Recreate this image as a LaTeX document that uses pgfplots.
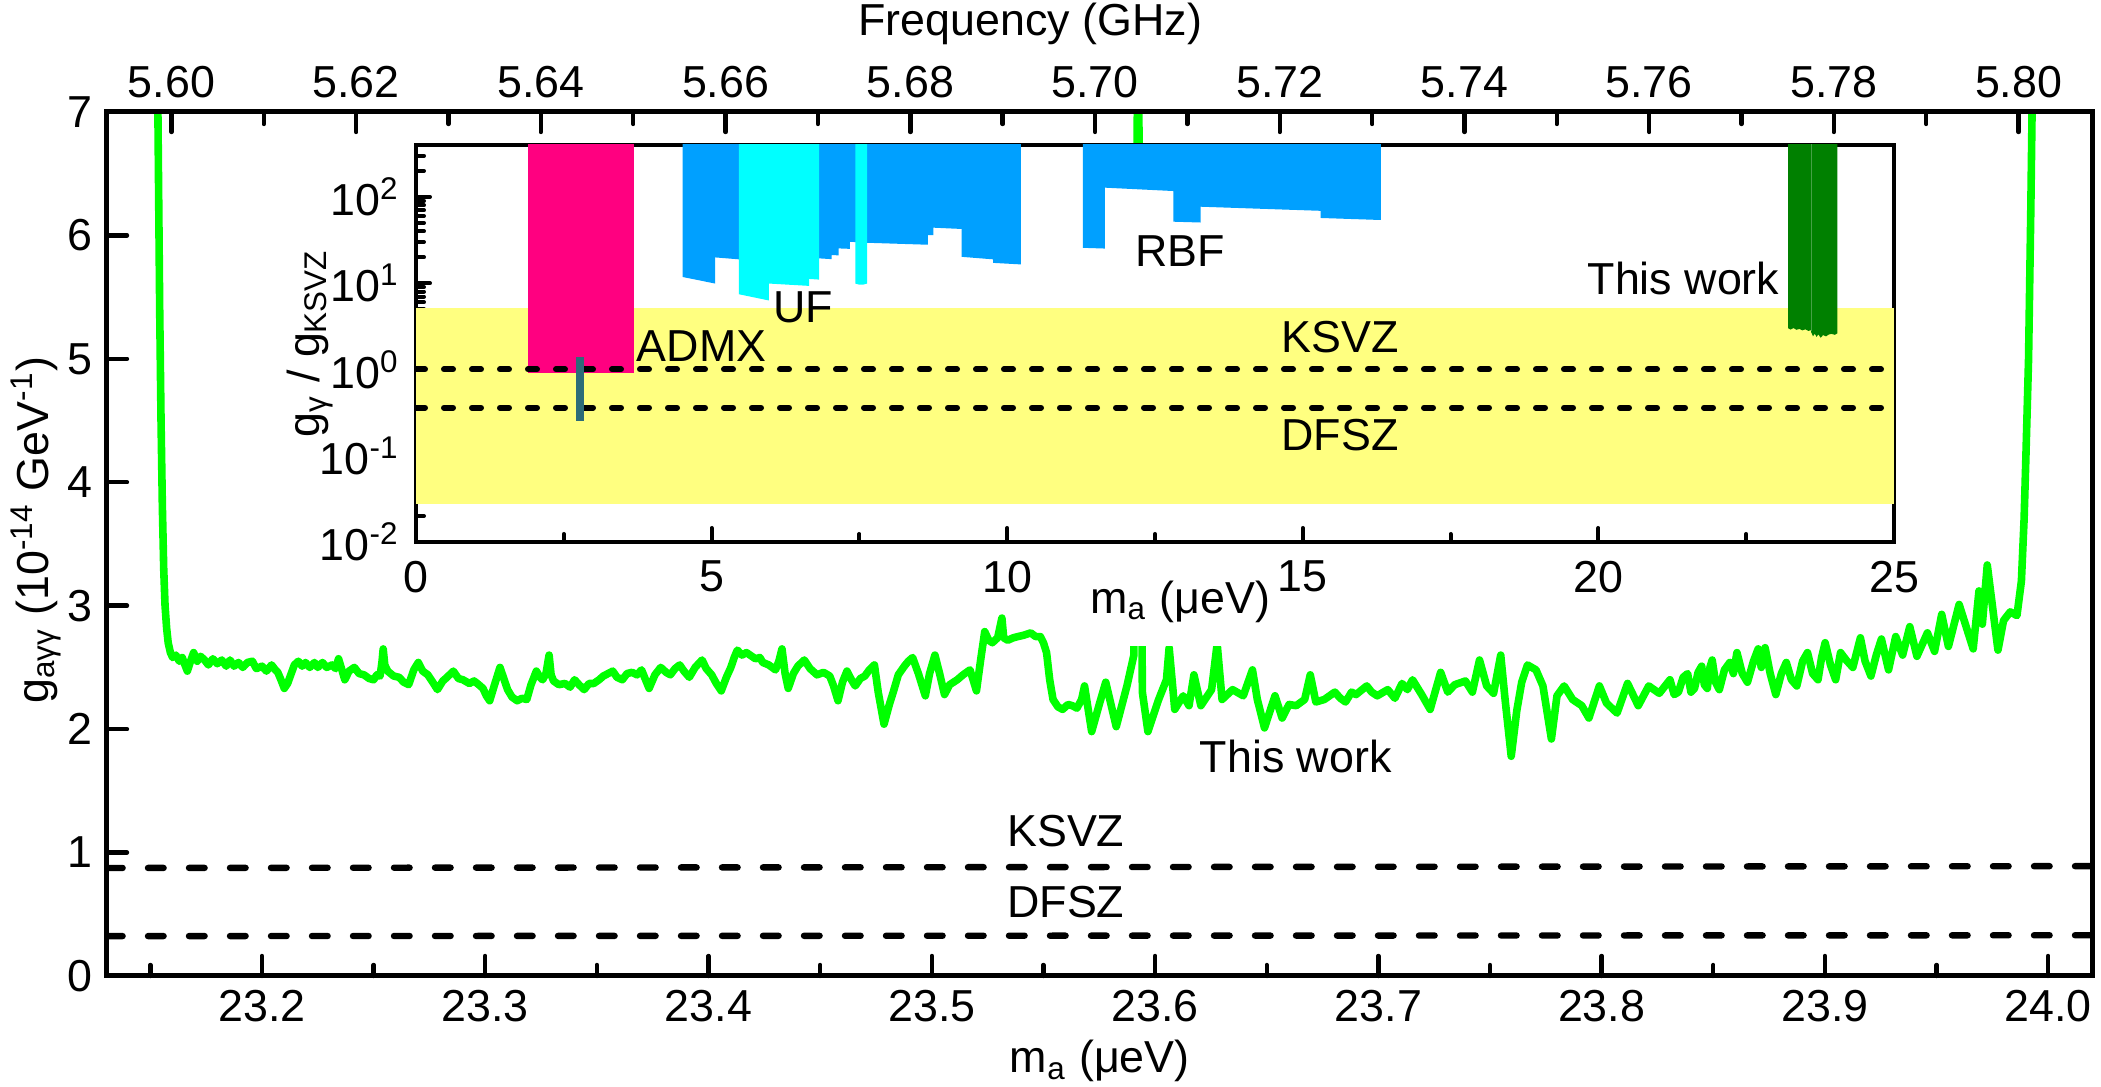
\documentclass[border=0pt]{standalone}
\usepackage{pgfplots}
\pgfplotsset{compat=1.18}
\usepackage{fontspec}
\setmainfont{Liberation Sans}
\newcommand\fs{\fontsize{11.2}{13.4}\selectfont}
\definecolor{mgreen}{RGB}{0,255,0}
\definecolor{ypink}{RGB}{255,0,128}
\definecolor{yteal}{RGB}{45,108,120}
\definecolor{yblue}{RGB}{0,160,255}
\definecolor{ycyan}{RGB}{0,255,255}
\definecolor{ydgreen}{RGB}{0,128,0}
\definecolor{yyellow}{RGB}{255,255,128}
\begin{document}
\begin{tikzpicture}
% ---------------- main axis ----------------
\begin{axis}[
  at={(0,0)}, anchor=south west,
  width=496.4pt, height=216pt, scale only axis,
  xmin=23.1306, xmax=24.0199, ymin=0, ymax=7,
  axis on top,
  axis line style={line width=1.25pt},
  xtick={23.2,23.3,23.4,23.5,23.6,23.7,23.8,23.9,24.0},
  minor xtick={23.15,23.25,23.35,23.45,23.55,23.65,23.75,23.85,23.95},
  ytick={0,1,2,3,4,5,6,7},
  xtick pos=left, ytick pos=left,
  tick align=inside,
  major tick length=5pt, minor tick length=2.75pt,
  tick style={black, line width=1.1pt, line cap=round},
  /pgf/number format/assume math mode=true,
  tick label style={font=\fs},
  xticklabel style={/pgf/number format/.cd, fixed, fixed zerofill, precision=1},
  yticklabel style={/pgf/number format/.cd, fixed, precision=0},
  label style={font=\fs},
  xlabel={m\textsubscript{a} (μeV)},
  ylabel={g\textsubscript{aγγ} (10\textsuperscript{-14} GeV\textsuperscript{-1})},
  xlabel style={at={(axis description cs:0.5,-0.112)}, anchor=base},
  ylabel style={at={(axis description cs:-0.0358,0.516)}, anchor=center},
  clip=true,
]
\addplot[mgreen, line width=1.9pt, line join=round] coordinates {
(23.1530,7.8) (23.1536,6.6) (23.1542,5.4) (23.1548,4.5) (23.1554,3.8) (23.1560,3.3) (23.1566,3.0) (23.1573,2.82) (23.1580,2.70) (23.1590,2.62) (23.1600,2.58)
(23.1614,2.60) (23.1630,2.55) (23.1643,2.58) (23.1655,2.52) (23.1666,2.47) (23.1680,2.55) (23.1694,2.62) (23.1710,2.55) (23.1725,2.59) (23.1743,2.56) (23.1760,2.52) (23.1780,2.57) (23.1800,2.53) (23.1820,2.56) (23.1840,2.51) (23.1857,2.56) (23.1875,2.51) (23.1895,2.54) (23.1914,2.50) (23.1935,2.54) (23.1957,2.55) (23.1975,2.49) (23.2000,2.51) (23.2020,2.47) (23.2043,2.52) (23.2060,2.48) (23.2071,2.46) (23.2085,2.40) (23.2100,2.33) (23.2115,2.37) (23.2129,2.44) (23.2145,2.52) (23.2163,2.55) (23.2180,2.51) (23.2195,2.54) (23.2214,2.50) (23.2235,2.54) (23.2250,2.50) (23.2271,2.54) (23.2290,2.50) (23.2314,2.52) (23.2330,2.49) (23.2343,2.57) (23.2358,2.48) (23.2371,2.40) (23.2390,2.47) (23.2414,2.50) (23.2435,2.45) (23.2457,2.44) (23.2480,2.41) (23.2500,2.40) (23.2515,2.44) (23.2529,2.43) (23.2538,2.55) (23.2543,2.65) (23.2550,2.52) (23.2563,2.47) (23.2590,2.43) (23.2614,2.42) (23.2635,2.38) (23.2657,2.36) (23.2680,2.48) (23.2700,2.54) (23.2720,2.47) (23.2743,2.44) (23.2765,2.38) (23.2786,2.32) (23.2810,2.39) (23.2829,2.42) (23.2857,2.47) (23.2880,2.41) (23.2900,2.40) (23.2929,2.37) (23.2950,2.39) (23.2971,2.36) (23.2990,2.33) (23.3005,2.27) (23.3020,2.23) (23.3040,2.35) (23.3066,2.50) (23.3085,2.40) (23.3100,2.32) (23.3120,2.26) (23.3143,2.23) (23.3165,2.25) (23.3186,2.24) (23.3205,2.36) (23.3229,2.47) (23.3245,2.42) (23.3257,2.40) (23.3272,2.45) (23.3286,2.60) (23.3295,2.44) (23.3306,2.39) (23.3330,2.36) (23.3357,2.37) (23.3380,2.34) (23.3400,2.40) (23.3420,2.36) (23.3443,2.32) (23.3465,2.37) (23.3486,2.37) (23.3510,2.40) (23.3529,2.43) (23.3550,2.45) (23.3571,2.47) (23.3590,2.42) (23.3614,2.40) (23.3635,2.45) (23.3657,2.46) (23.3680,2.44) (23.3700,2.48) (23.3718,2.40) (23.3734,2.33) (23.3760,2.44) (23.3786,2.50) (23.3810,2.46) (23.3829,2.44) (23.3850,2.49) (23.3871,2.52) (23.3890,2.47) (23.3914,2.42) (23.3940,2.50) (23.3971,2.56) (23.3990,2.49) (23.4014,2.44) (23.4035,2.37) (23.4057,2.31) (23.4080,2.42) (23.4100,2.50) (23.4115,2.58) (23.4129,2.64) (23.4150,2.60) (23.4170,2.62) (23.4186,2.60) (23.4210,2.57) (23.4230,2.58) (23.4243,2.54) (23.4270,2.52) (23.4300,2.48) (23.4315,2.55) (23.4329,2.65) (23.4343,2.45) (23.4357,2.33) (23.4380,2.45) (23.4400,2.51) (23.4429,2.56) (23.4455,2.49) (23.4486,2.44) (23.4515,2.46) (23.4543,2.43) (23.4560,2.35) (23.4580,2.23) (23.4600,2.38) (23.4620,2.47) (23.4640,2.40) (23.4657,2.35) (23.4680,2.41) (23.4700,2.43) (23.4720,2.48) (23.4743,2.52) (23.4760,2.30) (23.4786,2.04) (23.4810,2.20) (23.4829,2.31) (23.4850,2.44) (23.4877,2.51) (23.4895,2.55) (23.4914,2.58) (23.4940,2.45) (23.4971,2.27) (23.4990,2.45) (23.5014,2.60) (23.5035,2.45) (23.5057,2.28) (23.5080,2.36) (23.5114,2.40) (23.5140,2.44) (23.5171,2.48) (23.5185,2.40) (23.5200,2.31) (23.5218,2.55) (23.5237,2.79) (23.5255,2.72) (23.5271,2.70) (23.5295,2.74) (23.5314,2.90) (23.5322,2.74) (23.5340,2.72) (23.5365,2.74) (23.5386,2.75) (23.5410,2.76) (23.5443,2.78) (23.5465,2.75) (23.5486,2.75) (23.5500,2.70) (23.5514,2.62) (23.5528,2.40) (23.5543,2.24) (23.5565,2.18) (23.5586,2.16) (23.5610,2.20) (23.5629,2.19) (23.5650,2.17) (23.5671,2.24)
(23.5684,2.35) (23.5716,1.98) (23.5750,2.20) (23.5779,2.38) (23.5826,2.02) (23.5874,2.35) (23.5905,2.60) (23.5924,8.0) (23.5943,2.30) (23.5968,1.98) (23.6016,2.24) (23.6051,2.40) (23.6063,2.66) (23.6088,2.16) (23.6126,2.27) (23.6152,2.19) (23.6174,2.44) (23.6205,2.19) (23.6253,2.32) (23.6278,2.69) (23.6300,2.24) (23.6347,2.32) (23.6395,2.27) (23.6436,2.48) (23.6458,2.24) (23.6490,2.01) (23.6537,2.27) (23.6569,2.09) (23.6600,2.20) (23.6632,2.19) (23.6670,2.24) (23.6695,2.44) (23.6720,2.22) (23.6758,2.24) (23.6805,2.30) (23.6830,2.25) (23.6853,2.22) (23.6880,2.30) (23.6900,2.28) (23.6948,2.35) (23.6970,2.30) (23.6995,2.27) (23.7042,2.32) (23.7074,2.25) (23.7106,2.37) (23.7130,2.32) (23.7153,2.40) (23.7194,2.28) (23.7232,2.16) (23.7279,2.46) (23.7311,2.30) (23.7342,2.36) (23.7390,2.39) (23.7421,2.30) (23.7453,2.56) (23.7485,2.35) (23.7516,2.29) (23.7548,2.60) (23.7567,2.25) (23.7595,1.78) (23.7620,2.15) (23.7642,2.38) (23.7668,2.52) (23.7706,2.48) (23.7737,2.35) (23.7775,1.92) (23.7800,2.27) (23.7832,2.35) (23.7870,2.24) (23.7911,2.19) (23.7943,2.09) (23.7990,2.35) (23.8022,2.21) (23.8069,2.13) (23.8116,2.37) (23.8164,2.19) (23.8211,2.35) (23.8258,2.29) (23.8306,2.40) (23.8325,2.28) (23.8344,2.30) (23.8365,2.42) (23.8385,2.45) (23.8400,2.30) (23.8416,2.33) (23.8432,2.46) (23.8448,2.51) (23.8460,2.36) (23.8473,2.33) (23.8485,2.50) (23.8495,2.56) (23.8510,2.38) (23.8527,2.32) (23.8550,2.48) (23.8574,2.54) (23.8590,2.45) (23.8606,2.62) (23.8630,2.45) (23.8653,2.38) (23.8680,2.55) (23.8701,2.65) (23.8715,2.50) (23.8732,2.66) (23.8755,2.45) (23.8780,2.28) (23.8805,2.45) (23.8827,2.54) (23.8850,2.40) (23.8874,2.35) (23.8900,2.55) (23.8922,2.62) (23.8945,2.45) (23.8969,2.40) (23.8985,2.58) (23.9001,2.70) (23.9025,2.52) (23.9048,2.40) (23.9070,2.62) (23.9095,2.56) (23.9125,2.50) (23.9159,2.74) (23.9180,2.55) (23.9206,2.43) (23.9230,2.60) (23.9253,2.73) (23.9285,2.48) (23.9317,2.75) (23.9348,2.60) (23.9380,2.83) (23.9412,2.59) (23.9459,2.78) (23.9491,2.63) (23.9523,2.93) (23.9553,2.67) (23.9601,3.01) (23.9664,2.65) (23.9690,3.12) (23.9705,2.85) (23.9727,3.33) (23.9750,3.00) (23.9775,2.64) (23.9800,2.88) (23.9830,2.95) (23.9860,2.92) (23.9880,3.20) (23.9892,3.70) (23.9900,4.20) (23.9912,5.00) (23.9922,6.20) (23.9932,7.60)
};
\addplot[black, line width=1.6pt, line cap=round, dash pattern=on 3.9pt off 6.35pt] coordinates {(23.1306,0.875) (24.0199,0.890)};
\addplot[black, line width=1.6pt, line cap=round, dash pattern=on 3.9pt off 6.35pt] coordinates {(23.1306,0.323) (24.0199,0.330)};
\node[font=\fs] at (axis cs:23.560,1.17) {KSVZ};
\node[font=\fs] at (axis cs:23.560,0.60) {DFSZ};
\node[font=\fs] at (axis cs:23.663,1.78) {This work};
% opaque background behind the inset
\fill[white] (axis cs:23.2103,2.95) rectangle (axis cs:23.938,6.75);
\fill[white] (axis cs:23.564,2.67) rectangle (axis cs:23.660,3.0);
\end{axis}
% ---------------- top frequency axis ----------------
\begin{axis}[
  at={(0,0)}, anchor=south west,
  width=496.4pt, height=216pt, scale only axis,
  xmin=5.59302, xmax=5.80801, ymin=0, ymax=7,
  axis line style={line width=1.25pt},
  xtick={5.60,5.62,5.64,5.66,5.68,5.70,5.72,5.74,5.76,5.78,5.80},
  minor xtick={5.61,5.63,5.65,5.67,5.69,5.71,5.73,5.75,5.77,5.79},
  ytick=\empty,
  xtick pos=right, xticklabel pos=right,
  tick align=inside,
  major tick length=5pt, minor tick length=3pt,
  tick style={black, line width=1.1pt, line cap=round},
  /pgf/number format/assume math mode=true,
  tick label style={font=\fs},
  xticklabel style={/pgf/number format/.cd, fixed, fixed zerofill, precision=2},
  label style={font=\fs},
  xlabel={Frequency (GHz)},
  xlabel style={at={(axis description cs:0.465,1.088)}, anchor=base},
]
\end{axis}
% ---------------- inset ----------------
\begin{axis}[
  at={(77.25pt,108.5pt)}, anchor=south west,
  width=369.5pt, height=99.25pt, scale only axis,
  xmin=0, xmax=25, ymode=log, ymin=0.01, ymax=400,
  axis line style={line width=1pt},
  xtick={0,5,10,15,20,25},
  minor xtick={2.5,7.5,12.5,17.5,22.5},
  ytick={0.01,0.1,1,10,100},
  yticklabels={10\textsuperscript{-2},10\textsuperscript{-1},10\textsuperscript{0},10\textsuperscript{1},10\textsuperscript{2}},
  minor ytick={0.02,0.03,0.04,0.05,0.06,0.07,0.08,0.09,0.2,0.3,0.4,0.5,0.6,0.7,0.8,0.9,2,3,4,5,6,7,8,9,20,30,40,50,60,70,80,90,200,300,400},
  xtick pos=left, ytick pos=left,
  tick align=inside,
  major tick length=3.5pt, minor tick length=2pt,
  tick style={black, line width=1pt, line cap=round},
  /pgf/number format/assume math mode=true,
  tick label style={font=\fs},
  xticklabel style={yshift=-1.2pt},
  yticklabel style={xshift=-0.6pt},
  label style={font=\fs},
  xlabel={m\textsubscript{a} (μeV)},
  ylabel={g\textsubscript{γ} / g\textsubscript{KSVZ}},
  xlabel style={at={(axis description cs:0.517,-0.179)}, anchor=base},
  ylabel style={at={(axis description cs:-0.0717,0.5)}, anchor=center},
  axis background/.style={fill=white},
  clip=true,
]
\addplot[fill=yyellow, draw=none] coordinates {(0,0.0277) (25,0.0277) (25,5.1) (0,5.1)};
% blue (RBF) regions
\addplot[fill=yblue, draw=none] coordinates {(4.51,1000) (4.51,11.8) (5.06,9.9) (5.06,19.9) (5.46,18.9) (6.82,19.6) (6.82,19.4) (7.03,19.0) (7.03,21.2) (7.15,21.0) (7.15,25.3) (7.34,25.0) (7.34,30.2) (7.63,29.4) (8.66,27.9) (8.66,36) (8.75,36) (8.75,44) (9.23,42.5) (9.23,20.2) (9.76,18.9) (9.76,17.2) (10.23,16.5) (10.23,1000)};
\addplot[fill=yblue, draw=none] coordinates {(11.28,1000) (11.28,25.7) (11.65,25.2) (11.65,128) (12.81,117) (12.81,51.6) (13.27,50.5) (13.27,77) (15.30,69) (15.30,57) (16.32,54) (16.32,1000)};
% cyan (UF) regions
\addplot[fill=ycyan, draw=none] coordinates {(5.46,1000) (5.46,7.45) (5.97,6.3) (5.97,9.9) (6.65,9.3) (6.65,11.2) (6.82,11.0) (6.82,1000)};
\addplot[fill=ycyan, draw=none] coordinates {(7.43,1000) (7.43,9.9) (7.50,9.6) (7.56,9.6) (7.63,9.9) (7.63,1000)};
% ADMX
\addplot[fill=ypink, draw=none] coordinates {(1.90,1000) (1.90,0.92) (3.69,0.92) (3.69,1000)};
% This work
\addplot[fill=ydgreen, draw=none] coordinates {(23.21,1000) (23.21,3.0) (23.25,2.9) (23.30,3.02) (23.35,2.88) (23.40,2.95) (23.45,2.84) (23.50,2.92) (23.55,2.80) (23.60,2.85) (23.60,1000)};
\addplot[fill=ydgreen, draw=none] coordinates {(23.60,1000) (23.60,2.7) (23.63,2.42) (23.66,2.60) (23.69,2.38) (23.72,2.55) (23.76,2.33) (23.80,2.50) (23.85,2.42) (23.90,2.55) (23.95,2.58) (24.00,2.52) (24.04,2.62) (24.04,1000)};
\addplot[color={rgb,255:red,70;green,160;blue,70}, line width=0.3pt] coordinates {(23.60,2.8) (23.60,1000)};
% KSVZ / DFSZ
\addplot[black, line width=1.5pt, line cap=round, dash pattern=on 2.25pt off 4.75pt] coordinates {(0,1) (25,1)};
\addplot[black, line width=1.5pt, line cap=round, dash pattern=on 2.25pt off 4.75pt] coordinates {(0,0.36) (25,0.36)};
% teal line
\addplot[yteal, line width=2pt] coordinates {(2.78,0.255) (2.78,1.38)};
\node[font=\fs] at (axis cs:4.83,1.85) {ADMX};
\node[font=\fs] at (axis cs:6.55,5.3) {UF};
\node[font=\fs] at (axis cs:12.92,23.6) {RBF};
\node[font=\fs] at (axis cs:21.44,11.4) {This work};
\node[font=\fs] at (axis cs:15.63,2.36) {KSVZ};
\node[font=\fs] at (axis cs:15.63,0.175) {DFSZ};
\end{axis}
\pgfresetboundingbox
\useasboundingbox (-26.75pt,-27.75pt) rectangle (498.5pt,244pt);
\end{tikzpicture}
\end{document}
